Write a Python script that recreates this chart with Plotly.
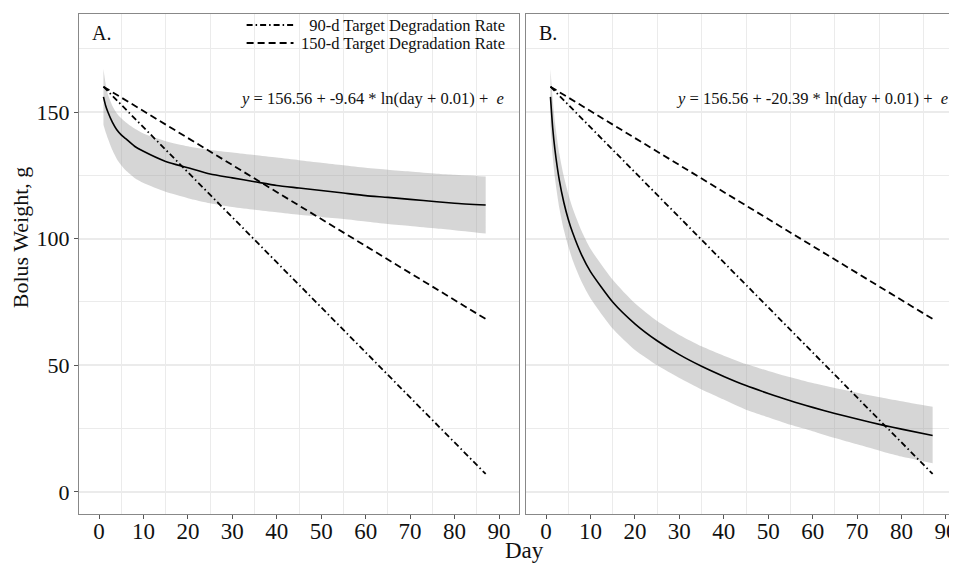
import plotly.graph_objects as go

# ---- data ----
days = [1, 1.5, 2, 3, 4, 5, 6, 8, 10, 15, 20, 25, 30, 35, 40, 45, 50, 55, 60, 65, 70, 76, 80, 87]

a_mean = [156, 152.5, 150, 146, 143, 141, 139.5, 136.5, 134.5, 130.5, 128, 125.5, 124, 122.5,
          121, 120, 119, 118, 117, 116.3, 115.5, 114.6, 114, 113.3]
a_upper = [167, 161, 157, 152.5, 149.5, 147.5, 146, 143.5, 141.5, 138.5, 136.5, 135, 134, 133,
           132, 131, 130, 129, 128, 127.2, 126.5, 125.6, 125.2, 124.5]
a_lower = [145, 142, 139.5, 135, 131.5, 129, 127, 124, 122, 118.5, 116, 114, 112.5, 111.4,
           110.4, 109.4, 108.6, 107.8, 106.8, 105.8, 105, 104, 103.3, 102]

b_mean = [156, 143.8, 135.2, 123, 114.4, 107.7, 102.3, 93.6, 87, 75, 66.4, 59.7, 54.2, 49.6,
          45.6, 42, 38.9, 36, 33.4, 31, 28.8, 26.3, 24.8, 22.3]
b_upper = [167, 155, 146.2, 133.5, 124.6, 117.7, 112, 103, 96, 83.8, 74.5, 67.5, 62, 57.5,
           53.8, 50.5, 47.8, 45.3, 43, 41, 39.2, 37.1, 35.8, 33.6]
b_lower = [144.5, 132.5, 124, 112, 103.5, 97, 91.5, 83, 76.5, 64.5, 56, 50, 45, 40.5,
           36.5, 32.5, 29.5, 26.5, 24, 21.3, 18.8, 15.8, 14, 11.3]

target_days = [1, 87]
target_90 = [160, 7.1]
target_150 = [160, 68.3]

x_ticks = [0, 10, 20, 30, 40, 50, 60, 70, 80, 90]
x_minor = [5, 15, 25, 35, 45, 55, 65, 75, 85]
y_ticks = [0, 50, 100, 150]
y_minor = [25, 75, 125, 175]

legend_labels = ["\u200790-d Target Degradation Rate", "150-d Target Degradation Rate"]
eq_a = "<i>y</i> = 156.56 + -9.64 * ln(day + 0.01) +&nbsp; <i>e</i>"
eq_b = "<i>y</i> = 156.56 + -20.39 * ln(day + 0.01) +&nbsp; <i>e</i>"

FONT = "Liberation Serif, Times New Roman, serif"
BAND = "rgba(153,153,153,0.4)"
DASHDOT = "6px,3px,1.5px,3px"
DASH = "7px,4px"

fig = go.Figure()

panels = [("x", "y", a_mean, a_upper, a_lower),
          ("x2", "y2", b_mean, b_upper, b_lower)]

for xa, ya, m, up, lo in panels:
    fig.add_trace(go.Scatter(x=days, y=lo, mode="lines",
                             line=dict(width=0, shape="spline", smoothing=0.6),
                             hoverinfo="skip", showlegend=False, xaxis=xa, yaxis=ya))
    fig.add_trace(go.Scatter(x=days, y=up, mode="lines", fill="tonexty", fillcolor=BAND,
                             line=dict(width=0, shape="spline", smoothing=0.6),
                             hoverinfo="skip", showlegend=False, xaxis=xa, yaxis=ya))
    fig.add_trace(go.Scatter(x=days, y=m, mode="lines",
                             line=dict(color="black", width=1.6, shape="spline", smoothing=0.6),
                             showlegend=False, xaxis=xa, yaxis=ya))
    fig.add_trace(go.Scatter(x=target_days, y=target_90, mode="lines",
                             name=legend_labels[0],
                             line=dict(color="black", width=1.8, dash=DASHDOT),
                             showlegend=False, xaxis=xa, yaxis=ya))
    fig.add_trace(go.Scatter(x=target_days, y=target_150, mode="lines",
                             name=legend_labels[1],
                             line=dict(color="black", width=1.8, dash=DASH),
                             showlegend=False, xaxis=xa, yaxis=ya))

grid = "#ebebeb"
xcommon = dict(range=[-4.5, 94.5], tickvals=x_ticks, showgrid=False, zeroline=False,
               ticks="outside", ticklen=4, tickcolor="#555", tickwidth=1,
               ticklabelstandoff=-8, ticklabeloverflow="allow",
               tickfont=dict(family=FONT, size=23, color="#111"),
               showline=True, linecolor="#888", linewidth=1.2,
               minor=dict(tickvals=x_minor, showgrid=True, gridcolor=grid, gridwidth=1, ticks=""))
ycommon = dict(range=[-8.7, 188.7], tickvals=y_ticks, showgrid=True, gridcolor=grid, gridwidth=2.2,
               zeroline=False, showline=True, linecolor="#888", linewidth=1.2,
               tickfont=dict(family=FONT, size=22, color="#111"),
               minor=dict(tickvals=y_minor, showgrid=True, gridcolor=grid, gridwidth=1, ticks=""))

# the page body has an 8px margin; the figure is sized/offset so the view matches 957x564
fig.update_layout(
    width=949, height=556,
    margin=dict(l=71, r=0, t=6, b=50),
    paper_bgcolor="white", plot_bgcolor="white",
    font=dict(family=FONT, color="#111"),
    xaxis=dict(domain=[0, 0.5023], mirror=True, **xcommon),
    xaxis2=dict(domain=[0.5103, 1.0], anchor="y2", mirror=True,
                **{**xcommon, "range": [-4.5, 92.03]}),
    yaxis=dict(domain=[0, 1], anchor="x", mirror=True, ticks="outside", ticklen=4,
               tickcolor="#555", **ycommon),
    yaxis2=dict(domain=[0, 1], anchor="x2", showticklabels=False, ticks="", **ycommon),
    showlegend=False,
)

def px(vx):
    return (vx - 79) / 878.0

def py(vy):
    return 1 - (vy - 14) / 500.0

shapes = [
    dict(type="line", xref="paper", yref="paper", x0=px(247), x1=px(294), y0=py(25), y1=py(25),
         line=dict(color="black", width=1.8, dash=DASHDOT)),
    dict(type="line", xref="paper", yref="paper", x0=px(247), x1=px(294), y0=py(43), y1=py(43),
         line=dict(color="black", width=1.8, dash=DASH)),
]

ann = [
    dict(text=legend_labels[0], xref="paper", yref="paper", x=px(508), y=py(25),
         xanchor="right", yanchor="middle", font=dict(size=16.5)),
    dict(text=legend_labels[1], xref="paper", yref="paper", x=px(508), y=py(43),
         xanchor="right", yanchor="middle", font=dict(size=16.5)),
    dict(text="A.", xref="x domain", yref="y domain", x=0.025, y=0.962,
         xanchor="left", yanchor="middle", font=dict(size=20)),
    dict(text="B.", xref="x2 domain", yref="y2 domain", x=0.025, y=0.962,
         xanchor="left", yanchor="middle", font=dict(size=20)),
    dict(text=eq_a, xref="x domain", yref="y domain", x=0.9705, y=0.832,
         xanchor="right", yanchor="middle", font=dict(size=16.5)),
    dict(text=eq_b, xref="x2 domain", yref="y2 domain", x=0.9877, y=0.832,
         xanchor="right", yanchor="middle", font=dict(size=16.5)),
    dict(text="Bolus Weight, g", xref="paper", yref="paper", x=-0.066, y=0.552,
         textangle=-90, xanchor="center", yanchor="middle", font=dict(size=22)),
    dict(text="Day", xref="paper", yref="paper", x=0.508, y=-0.072,
         xanchor="center", yanchor="middle", font=dict(size=23)),
]
for a in ann:
    a["showarrow"] = False
    a["font"]["family"] = FONT
    a["font"]["color"] = "#111"
fig.update_layout(annotations=ann, shapes=shapes)

fig.write_html("out.html")
